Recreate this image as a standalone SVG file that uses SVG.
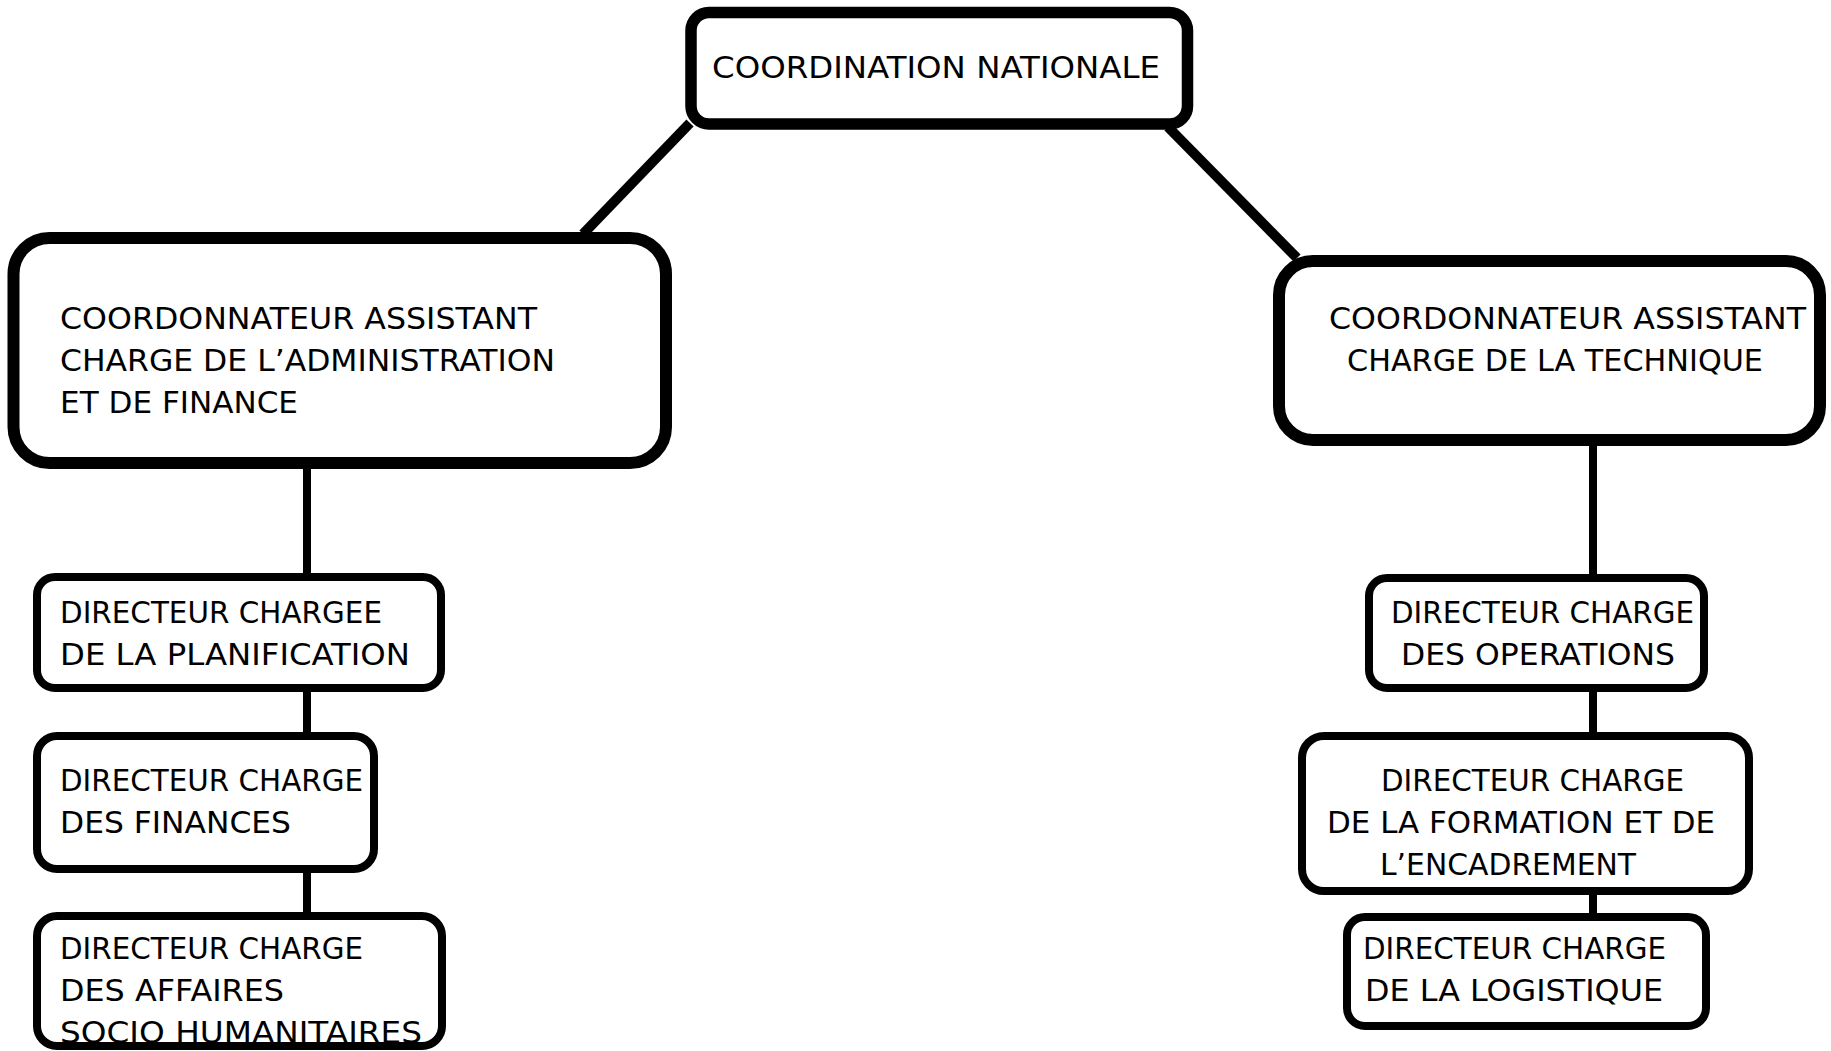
<svg xmlns="http://www.w3.org/2000/svg" width="1831" height="1051" viewBox="0 0 1831 1051">
<style>
.box{fill:#fff;stroke:#000}
.big{stroke-width:12}
.small{stroke-width:8}
.conn{stroke:#000;fill:none}
text{font-family:"DejaVu Sans","Liberation Sans",sans-serif;font-size:30px;fill:#000}
</style>
<rect width="1831" height="1051" fill="#fff"/>
<g id="connectors">
<line class="conn" x1="690" y1="123" x2="583" y2="234" stroke-width="10"/>
<line class="conn" x1="1168" y1="127" x2="1297" y2="258" stroke-width="10"/>
<line class="conn" x1="307" y1="463" x2="307" y2="577" stroke-width="8"/>
<line class="conn" x1="307" y1="688" x2="307" y2="736" stroke-width="8"/>
<line class="conn" x1="307" y1="869" x2="307" y2="916" stroke-width="8"/>
<line class="conn" x1="1593" y1="440" x2="1593" y2="578" stroke-width="8"/>
<line class="conn" x1="1593" y1="688" x2="1593" y2="736" stroke-width="8"/>
<line class="conn" x1="1593" y1="891" x2="1593" y2="917" stroke-width="8"/>
</g>
<g id="n-coordination">
<rect class="box" x="691" y="12.5" width="496.5" height="111.5" rx="18" stroke-width="11.5"/>
<text x="712" y="78" textLength="448" lengthAdjust="spacingAndGlyphs">COORDINATION NATIONALE</text>
</g>
<g id="n-admin">
<rect class="box big" x="13.5" y="238" width="652.5" height="225" rx="36"/>
<text x="60" y="329" textLength="477" lengthAdjust="spacingAndGlyphs">COORDONNATEUR ASSISTANT</text>
<text x="60" y="371" textLength="495" lengthAdjust="spacingAndGlyphs">CHARGE DE L’ADMINISTRATION</text>
<text x="60" y="413" textLength="238" lengthAdjust="spacingAndGlyphs">ET DE FINANCE</text>
</g>
<g id="n-technique">
<rect class="box big" x="1279" y="261" width="541" height="179" rx="34"/>
<text x="1329" y="329" textLength="477" lengthAdjust="spacingAndGlyphs">COORDONNATEUR ASSISTANT</text>
<text x="1347" y="371" textLength="416" lengthAdjust="spacingAndGlyphs">CHARGE DE LA TECHNIQUE</text>
</g>
<g id="n-planification">
<rect class="box small" x="37" y="577" width="404" height="111" rx="18"/>
<text x="60" y="623" textLength="322" lengthAdjust="spacingAndGlyphs">DIRECTEUR CHARGEE</text>
<text x="60" y="665" textLength="350" lengthAdjust="spacingAndGlyphs">DE LA PLANIFICATION</text>
</g>
<g id="n-finances">
<rect class="box small" x="37" y="736" width="337" height="133" rx="20"/>
<text x="60" y="791" textLength="303" lengthAdjust="spacingAndGlyphs">DIRECTEUR CHARGE</text>
<text x="60" y="833" textLength="231" lengthAdjust="spacingAndGlyphs">DES FINANCES</text>
</g>
<g id="n-affaires">
<rect class="box small" x="37" y="916" width="405" height="130" rx="20"/>
<text x="60" y="959" textLength="303" lengthAdjust="spacingAndGlyphs">DIRECTEUR CHARGE</text>
<text x="60" y="1001" textLength="224" lengthAdjust="spacingAndGlyphs">DES AFFAIRES</text>
<text x="60" y="1043" textLength="362" lengthAdjust="spacingAndGlyphs">SOCIO HUMANITAIRES</text>
</g>
<g id="n-operations">
<rect class="box small" x="1369" y="578" width="335" height="110" rx="18"/>
<text x="1391" y="623" textLength="303" lengthAdjust="spacingAndGlyphs">DIRECTEUR CHARGE</text>
<text x="1401" y="665" textLength="274" lengthAdjust="spacingAndGlyphs">DES OPERATIONS</text>
</g>
<g id="n-formation">
<rect class="box small" x="1302" y="736" width="447" height="155" rx="22"/>
<text x="1381" y="791" textLength="303" lengthAdjust="spacingAndGlyphs">DIRECTEUR CHARGE</text>
<text x="1327" y="833" textLength="388" lengthAdjust="spacingAndGlyphs">DE LA FORMATION ET DE</text>
<text x="1380" y="875" textLength="256" lengthAdjust="spacingAndGlyphs">L’ENCADREMENT</text>
</g>
<g id="n-logistique">
<rect class="box small" x="1347" y="917" width="359" height="109" rx="18"/>
<text x="1363" y="959" textLength="303" lengthAdjust="spacingAndGlyphs">DIRECTEUR CHARGE</text>
<text x="1365" y="1001" textLength="298" lengthAdjust="spacingAndGlyphs">DE LA LOGISTIQUE</text>
</g>
</svg>
